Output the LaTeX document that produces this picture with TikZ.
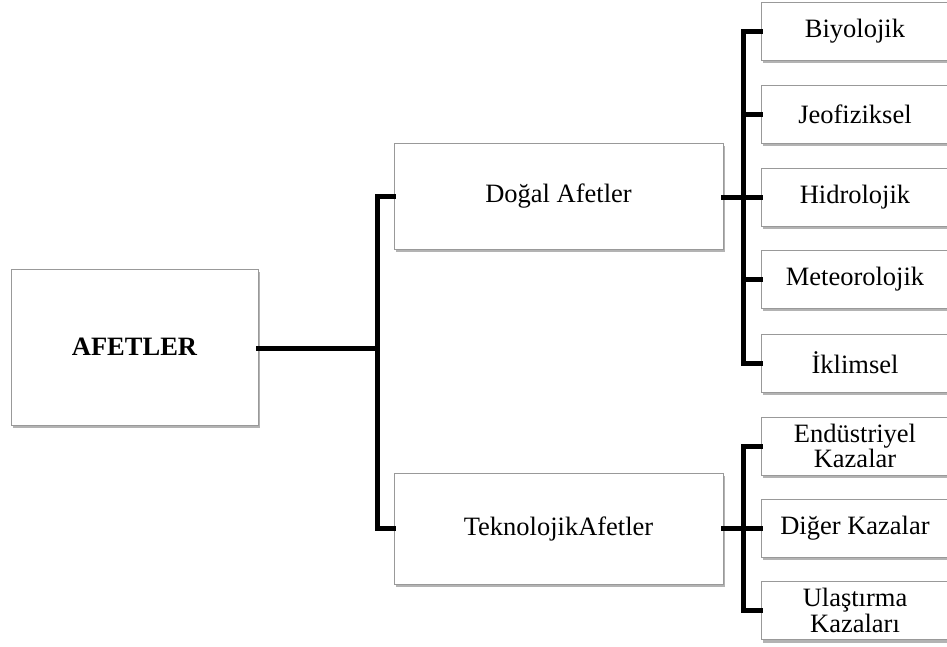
\documentclass[tikz,border=0pt]{standalone}
\usepackage{fontspec}
\setmainfont{Liberation Serif}
\usetikzlibrary{shadows}
\begin{document}
\begin{tikzpicture}[x=1pt,y=-1pt,
  box/.style={draw=black!40, line width=0.9pt, fill=white, inner sep=0pt,
    align=center, font=\fontsize{26.5}{25.5}\selectfont,
    drop shadow={shadow xshift=1.5pt, shadow yshift=-3pt, fill=black!50, opacity=0.6}},
  leaf/.style={box, minimum width=188pt, minimum height=58pt},
  conn/.style={line width=5pt, line join=miter, line cap=rect}]
\clip (0,0) rectangle (947,646);
\node[box, minimum width=247pt, minimum height=156pt, font=\fontsize{26.5}{25.5}\selectfont\bfseries] (A) at (134.5,347) {AFETLER};
\node[box, minimum width=329pt, minimum height=106pt] (D) at (558.5,196) {Doğal Afetler};
\node[box, minimum width=329pt, minimum height=111pt] (T) at (558.5,528.5) {TeknolojikAfetler};
\node[leaf] (L1) at (855,31) {Biyolojik};
\node[leaf] (L2) at (855,114) {Jeofiziksel};
\node[leaf] (L3) at (855,197) {Hidrolojik};
\node[leaf] (L4) at (855,279) {Meteorolojik};
\node[leaf] (L5) at (855,363) {İklimsel};
\node[leaf] (K1) at (855,446) {Endüstriyel\\Kazalar};
\node[leaf] (K2) at (855,528) {Diğer Kazalar};
\node[leaf] (K3) at (855,610.5) {Ulaştırma\\Kazaları};
\coordinate (b1) at (377,348);
\coordinate (b2) at (743,197);
\coordinate (b3) at (743,528.5);
\draw[conn] (A.east |- b1) -- (b1);
\draw[conn] (D.west) -| (b1);
\draw[conn] (T.west) -| (b1);
\draw[conn] (D.east |- b2) -- (L3.west |- b2);
\draw[conn] (L1.west) -| (b2);
\draw[conn] (L5.west) -| (b2);
\draw[conn] (L2.west) -- (L2.west -| b2);
\draw[conn] (L4.west) -- (L4.west -| b2);
\draw[conn] (T.east |- b3) -- (K2.west |- b3);
\draw[conn] (K1.west) -| (b3);
\draw[conn] (K3.west) -| (b3);
\end{tikzpicture}
\end{document}
